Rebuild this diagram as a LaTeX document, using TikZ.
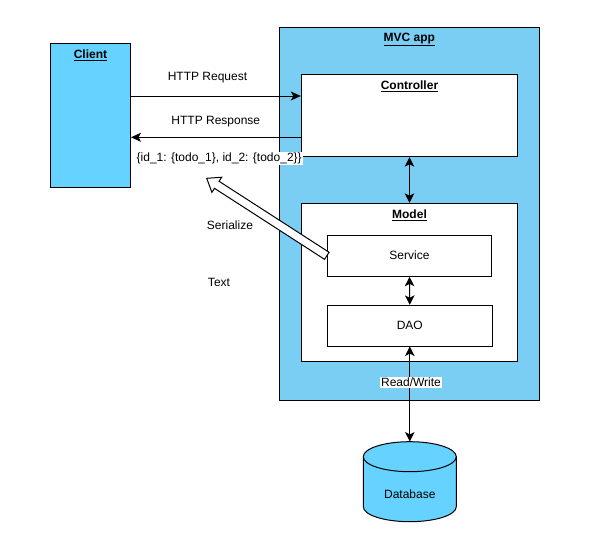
\documentclass[tikz,border=0pt]{standalone}
\usepackage{fontspec}
\setmainfont{Liberation Sans}
\usetikzlibrary{arrows.meta,calc}
\definecolor{clientblue}{RGB}{102,210,255}
\definecolor{mvcblue}{RGB}{122,206,244}
\tikzset{
  txt/.style={font=\fontsize{12}{14}\selectfont, inner sep=1pt},
  box/.style={draw=black, line width=1pt, inner sep=0pt, fill=white},
  ttl/.style={txt, font=\fontsize{12}{14}\selectfont\bfseries},
  arr/.style={line width=1pt, -{Stealth[length=10pt,width=9pt,inset=2.5pt]}},
  darr/.style={line width=1pt, {Stealth[length=9.5pt,width=9.5pt,inset=2.5pt]}-{Stealth[length=9.5pt,width=9.5pt,inset=2.5pt]}},
  bg/.style={fill=white}
}
\begin{document}
\begin{tikzpicture}[x=1pt,y=-1pt]
\useasboundingbox (0,0) rectangle (590,549);
% containers
\node[box, fill=clientblue, minimum width=80pt, minimum height=144pt] (client) at (90.5,115) {};
\node[box, fill=mvcblue, minimum width=260pt, minimum height=372.6pt] (mvc) at (409.3,214) {};
\node[box, minimum width=216.4pt, minimum height=82pt] (controller) at (409.5,115.7) {};
\node[box, minimum width=216.4pt, minimum height=158pt] (model) at (409.5,282.3) {};
\node[box, minimum width=164.4pt, minimum height=41pt] (service) at (409.5,255.8) {};
\node[box, minimum width=164.4pt, minimum height=40.7pt] (dao) at (409.8,325.7) {};
% titles
\node[ttl] (clientT) at (90.5,55) {\underline{Client}};
\node[ttl] (mvcT) at (409.3,39.8) {\underline{MVC app}};
\node[ttl] (controllerT) at (409.5,86.5) {\underline{Controller}};
\node[ttl] (modelT) at (409.5,215) {\underline{Model}};
\node[txt] (serviceT) at (409.5,255) {Service};
\node[txt] (daoT) at (409.8,325.5) {DAO};
% database
\filldraw[fill=clientblue, draw=black, line width=1pt]
  (363.3,456.7) -- (363.3,506.7) arc[start angle=180,end angle=0,x radius=46.5,y radius=15]
  -- (456.3,456.7) arc[start angle=0,end angle=-180,x radius=46.5,y radius=15] -- cycle;
\draw[line width=1pt] (363.3,456.7) arc[start angle=180,end angle=0,x radius=46.5,y radius=15];
\node[minimum width=93pt, minimum height=80pt, inner sep=0pt] (db) at (409.8,481.7) {};
\node[txt] (dbT) at (409.8,494) {Database};
% HTTP arrows
\draw[arr] (client.east |- 0,96) -- (controller.west |- 0,96);
\draw[arr] (controller.west |- 0,137.3) -- (client.east |- 0,137.3);
\node[txt] (reqT) at (207.5,77.5) {HTTP Request};
\node[txt] (resT) at (215.8,122) {HTTP Response};
\node[txt, bg] (json) at (219.2,158.5) {\{id\_1: \{todo\_1\}, id\_2: \{todo\_2\}\}};
% vertical arrows
\draw[darr] (controller.south) -- (model.north);
\draw[darr] (service.south) -- (dao.north);
\draw[darr] (dao.south) -- (db.north);
\node[txt, bg] (rw) at (411,382.5) {Read/Write};
% serialize block arrow
\coordinate (stip) at (206.7,178.3);
\coordinate (stail) at (service.west);
\coordinate (shead) at ($(stip)!12pt!(stail)$);
\draw[line width=1pt, fill=white, line join=miter]
  ($(stail)!4.2pt!90:(stip)$) -- ($(shead)!4.2pt!-90:(stail)$) -- ($(shead)!9pt!-90:(stail)$)
  -- (stip) -- ($(shead)!9pt!90:(stail)$) -- ($(shead)!4.2pt!90:(stail)$)
  -- ($(stail)!4.2pt!-90:(stip)$) -- cycle;
\node[txt] (serT) at (230,225) {Serialize};
\node[txt] (textT) at (219,282.5) {Text};
\end{tikzpicture}
\end{document}
